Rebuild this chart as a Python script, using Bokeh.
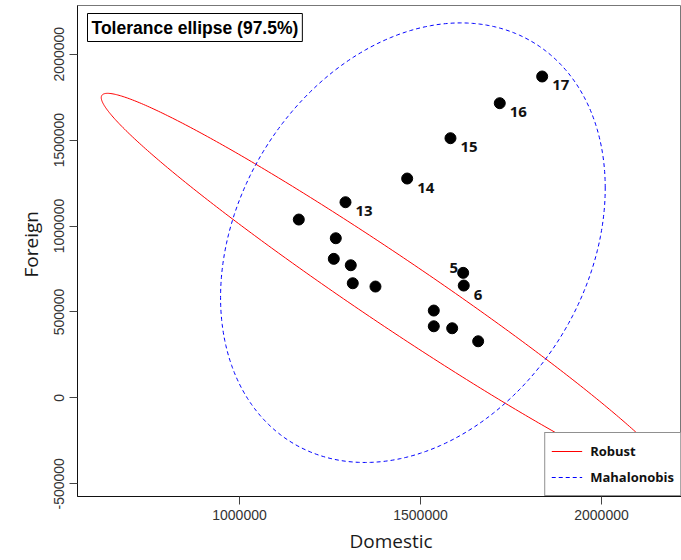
import numpy as np
from bokeh.plotting import figure
from bokeh.models import ColumnDataSource, FixedTicker, Label, Legend, LegendItem, Title
from bokeh.core.properties import value
from bokeh.embed import file_html
from bokeh.resources import INLINE

# ---- data ----
point_ids = list(range(1, 18))
domestic = [1163800, 1266000, 1260500, 1307400, 1617900, 1619500, 1312900, 1375600,
            1536700, 1536700, 1587500, 1659300, 1292800, 1463200, 1582800, 1719000, 1836100]
foreign = [1037700, 928900, 809000, 771700, 727500, 653600, 667000, 647800,
           508100, 416700, 405100, 329400, 1138400, 1276300, 1510900, 1714600, 1870000]
labeled_right_ids = [6, 13, 14, 15, 16, 17]
labeled_left_ids = [5]

x_ticks = [1000000, 1500000, 2000000]
x_tick_labels = ["1000000", "1500000", "2000000"]
y_ticks = [-500000, 0, 500000, 1000000, 1500000, 2000000]
y_tick_labels = ["-500000", "0", "500000", "1000000", "1500000", "2000000"]

robust_center = [1411500, 636700]
robust_sd = [292100, 418000]
robust_corr = -0.978
classic_center = [1479000, 903000]
classic_sd = [195600, 470800]
classic_corr = 0.249
coverage = 0.975

legend_labels = ["Robust", "Mahalonobis"]
title_text = "Tolerance ellipse (97.5%)"
x_label = "Domestic"
y_label = "Foreign"

# ---- derived ----
q = -2.0 * np.log(1.0 - coverage)  # chi-square quantile, 2 df


def ellipse(center, sd, r):
    cov = np.array([[sd[0] ** 2, r * sd[0] * sd[1]], [r * sd[0] * sd[1], sd[1] ** 2]])
    L = np.linalg.cholesky(cov)
    t = np.linspace(0, 2 * np.pi, 481)
    pts = np.sqrt(q) * (L @ np.vstack([np.cos(t), np.sin(t)]))
    return center[0] + pts[0], center[1] + pts[1]


rx, ry = ellipse(robust_center, robust_sd, robust_corr)
cx, cy = ellipse(classic_center, classic_sd, classic_corr)

X0, X1 = 552500, 2221000
Y0, Y1 = -573800, 2283100
W, H = 681, 560
BL, BT, BB = 77, 5, 64
FW, FH = W - BL, H - BT - BB


def sx(px):  # canvas pixel -> data x
    return X0 + (px - BL) * (X1 - X0) / FW


def sy(py):  # canvas pixel -> data y
    return Y1 - (py - BT) * (Y1 - Y0) / FH


p = figure(width=W, height=H, x_range=(X0, X1), y_range=(Y0, Y1),
           output_backend="svg", toolbar_location=None,
           min_border_left=BL, min_border_right=0, min_border_top=BT, min_border_bottom=BB)
p.xgrid.visible = False
p.ygrid.visible = False
p.outline_line_color = "#777777"
p.background_fill_color = "white"

for ax in (p.xaxis[0], p.yaxis[0]):
    ax.axis_line_color = "#111111"
    ax.major_tick_line_color = "#444444"
    ax.major_tick_out = 8
    ax.major_tick_in = 0
    ax.minor_tick_line_color = None
    ax.major_label_text_font = "Liberation Sans"
    ax.major_label_text_font_size = "14px"
    ax.major_label_text_color = "#333333"

p.xaxis.ticker = FixedTicker(ticks=x_ticks)
p.xaxis.major_label_overrides = dict(zip(x_ticks, x_tick_labels))
p.xaxis.major_label_standoff = 5
p.yaxis.ticker = FixedTicker(ticks=y_ticks)
p.yaxis.major_label_overrides = dict(zip(y_ticks, y_tick_labels))
p.yaxis.major_label_orientation = "vertical"
p.yaxis.major_label_standoff = 5

r_rob = p.line(rx, ry, line_color="#FF0000", line_width=1)
r_cls = p.line(cx, cy, line_color="#0000FF", line_width=1, line_dash="4 3")

src = ColumnDataSource(dict(x=domestic, y=foreign, id=[str(i) for i in point_ids]))
p.scatter("x", "y", source=src, size=11, color="black")

src_r = ColumnDataSource(dict(x=[domestic[i - 1] for i in labeled_right_ids],
                              y=[foreign[i - 1] for i in labeled_right_ids],
                              t=[str(i) for i in labeled_right_ids]))
src_l = ColumnDataSource(dict(x=[domestic[i - 1] for i in labeled_left_ids],
                              y=[foreign[i - 1] for i in labeled_left_ids],
                              t=[str(i) for i in labeled_left_ids]))
lab_style = dict(text="t", text_font=value("Open Sans"), text_font_style="bold",
                 text_font_size="15px", text_color="#111111", text_baseline="middle")
p.text("x", "y", source=src_r, x_offset=10, y_offset=9, text_align="left", **lab_style)
p.text("x", "y", source=src_l, x_offset=-5, y_offset=-5, text_align="right", **lab_style)

legend = Legend(items=[LegendItem(label=legend_labels[0], renderers=[r_rob]),
                       LegendItem(label=legend_labels[1], renderers=[r_cls])],
                location="bottom_right", margin=0, padding=6, spacing=2,
                glyph_width=31, glyph_height=24, label_height=20, label_standoff=8,
                label_text_font="Open Sans", label_text_font_style="bold",
                label_text_font_size="13px", label_text_color="#111111",
                border_line_color="#222222", border_line_width=1,
                background_fill_color="white", background_fill_alpha=1.0)
p.add_layout(legend)

title = Label(x=sx(87), y=sy(13), text=title_text, text_font="Liberation Sans",
              text_font_style="bold", text_font_size="17.5px", text_color="black",
              text_align="left", text_baseline="top",
              border_line_color="black", border_line_width=1,
              background_fill_color="white", padding=4)
p.add_layout(title)

# axis titles (offset to match the reference, whose plot region runs past the right edge)
xlab = Title(text=x_label, align="left", offset=272, standoff=6,
             text_font="Open Sans", text_font_size="19px", text_font_style="normal",
             text_color="#1a1a1a")
ylab = Title(text=y_label, align="left", offset=211, standoff=0, padding=8,
             text_font="Open Sans", text_font_size="19px", text_font_style="normal",
             text_color="#1a1a1a")
p.add_layout(xlab, "below")
p.add_layout(ylab, "left")

open("out.html", "w").write(file_html(p, INLINE))
